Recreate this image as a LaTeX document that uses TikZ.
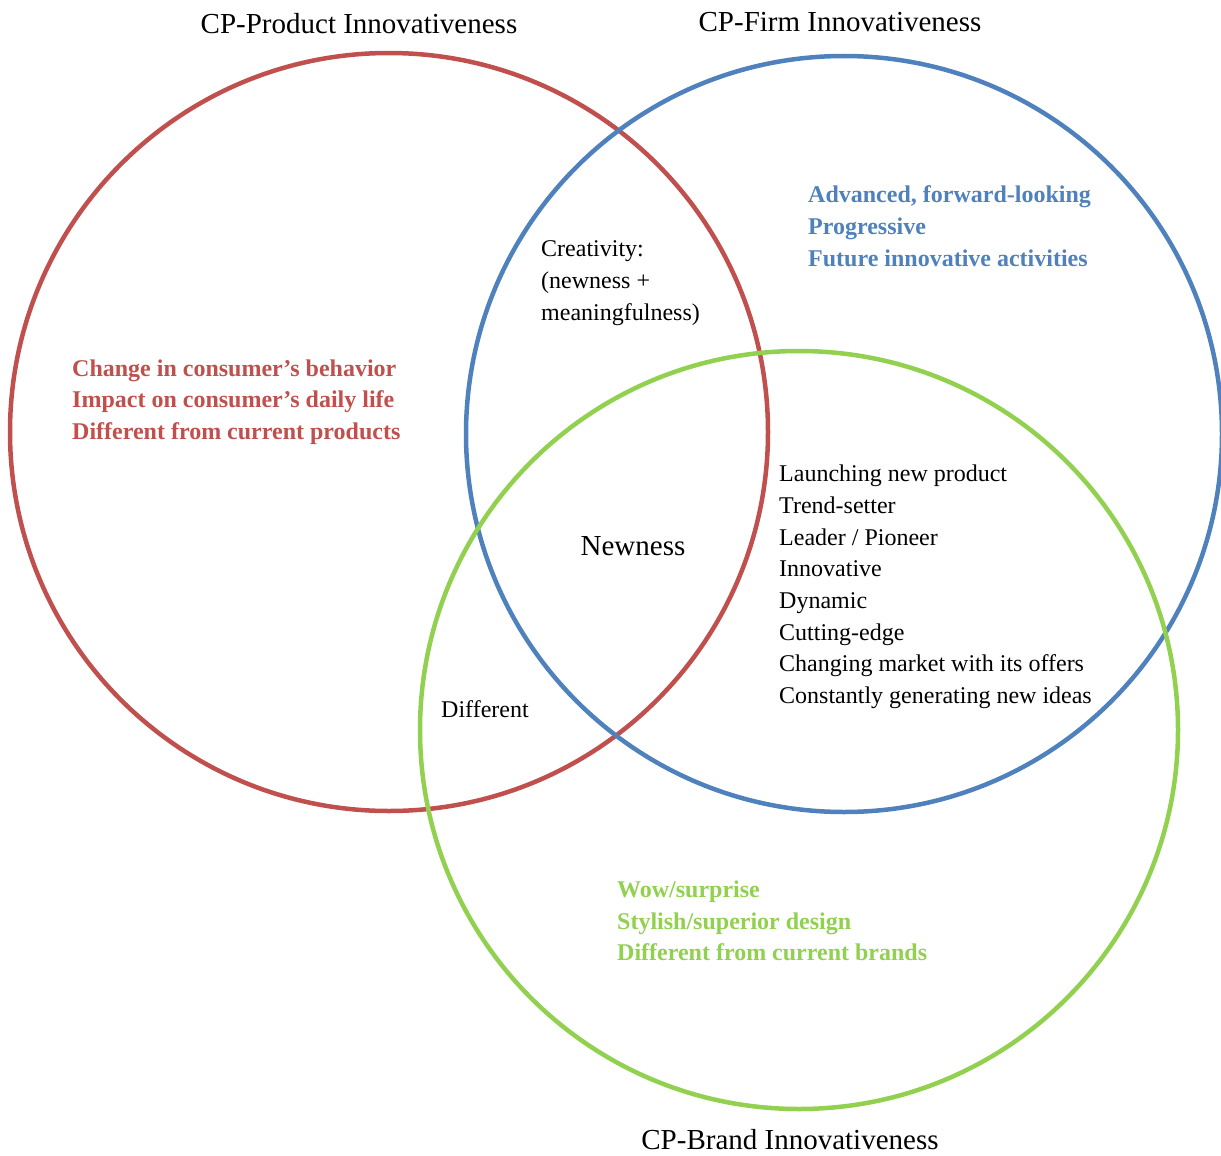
\documentclass[tikz,border=0pt]{standalone}
\usepackage{fontspec}
\setmainfont{Liberation Serif}
\usepackage{xcolor}
\definecolor{prodred}{HTML}{C0504D}
\definecolor{firmblue}{HTML}{4F81BD}
\definecolor{brandgreen}{HTML}{92D050}

\begin{document}
\begin{tikzpicture}[
		x = 1pt, y = -1pt,
		ring/.style = {line width = 4.5pt},
		title/.style = {inner sep = 0pt, font = \fontsize{29}{34}\selectfont},
		items/.style = {inner sep = 0pt, anchor = west, align = left, font = \fontsize{24}{31.7}\selectfont},
		keyitems/.style = {items, font = \fontsize{24}{31.7}\selectfont\bfseries}
	]
		\useasboundingbox (0,0) rectangle (1221,1156);

		% the three circles
		\draw[ring, prodred] (389,432) circle [radius = 379pt];
		\draw[ring, firmblue] (844,434) circle [radius = 378pt];
		\draw[ring, brandgreen] (799,730) circle [radius = 379pt];

		% titles
		\node[title] (product) at (359,24) {CP-Product Innovativeness};
		\node[title] (firm) at (840,22) {CP-Firm Innovativeness};
		\node[title] (brand) at (790,1140) {CP-Brand Innovativeness};

		% inside the circles
		\node[keyitems, text = prodred] (productitems) at (72,402) {Change in consumer’s behavior\\Impact on consumer’s daily life\\Different from current products};
		\node[keyitems, text = firmblue] (firmitems) at (808,226) {Advanced, forward-looking\\Progressive\\Future innovative activities};
		\node[keyitems, text = brandgreen] (branditems) at (617,921) {Wow/surprise\\Stylish/superior design\\Different from current brands};

		% overlaps
		\node[items] (creativity) at (541,283) {Creativity:\\(newness +\\meaningfulness)};
		\node[items] (firmbrand) at (779,587) {Launching new product\\Trend-setter\\Leader / Pioneer\\Innovative\\Dynamic\\Cutting-edge\\Changing market with its offers\\Constantly generating new ideas};
		\node[items] (different) at (441,709) {Different};
		\node[title] (newness) at (633,546) {Newness};
	\end{tikzpicture}
\end{document}
